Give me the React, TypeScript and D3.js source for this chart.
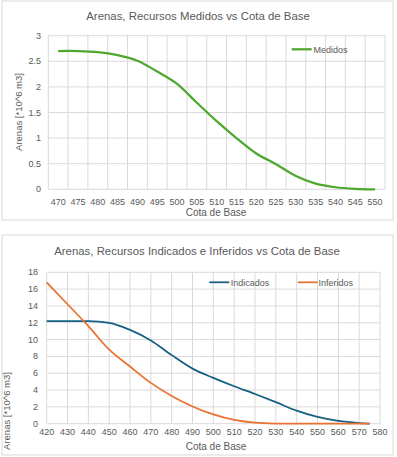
import React from 'react';
import * as d3 from 'd3';

// Chart 1: measured resources
const medCotas = [470, 475, 480, 485, 490, 495, 500, 505, 510, 515, 520, 525, 530, 535, 540, 545, 550];
const medidos = [2.70, 2.70, 2.68, 2.62, 2.51, 2.30, 2.06, 1.69, 1.33, 1.0, 0.70, 0.49, 0.26, 0.11, 0.04, 0.01, 0.0];
const medTicks = [0, 0.5, 1, 1.5, 2, 2.5, 3];

// Chart 2: indicated and inferred resources
const indCotas = [420, 430, 440, 450, 460, 470, 480, 490, 500, 510, 520, 530, 540, 550, 560, 570, 575];
const indicados = [12.2, 12.2, 12.2, 12.0, 11.15, 9.9, 8.15, 6.55, 5.45, 4.45, 3.53, 2.56, 1.55, 0.8, 0.33, 0.08, 0.0];
const inferidos = [16.8, 14.2, 11.6, 8.8, 6.8, 4.85, 3.3, 2.05, 1.1, 0.45, 0.12, 0.02, 0.0, 0.0, 0.0, 0.0, 0.0];
const ind2Ticks = [0, 2, 4, 6, 8, 10, 12, 14, 16, 18];
const xTicks2 = [420, 430, 440, 450, 460, 470, 480, 490, 500, 510, 520, 530, 540, 550, 560, 570, 580];

const font = '"Liberation Sans", Arial, sans-serif';
const textColor = '#595959';
const gridColor = '#d9d9d9';

const GREEN = '#4ea72e';
const BLUE = '#156082';
const ORANGE = '#e97132';

function MedidosChart() {
    const left = 48.3, right = 385, top = 35.7, bottom = 189.3;
    const x = d3.scalePoint<number>().domain(medCotas).range([left, right]).padding(0.5);
    const y = d3.scaleLinear().domain([0, 3]).range([bottom, top]);
    const step = x.step();
    const line = d3.line<number>()
        .x((_, i) => x(medCotas[i])!)
        .y(d => y(d))
        .curve(d3.curveCatmullRom.alpha(0.5));

    return (
        <g>
            <rect x={2} y={1} width={391} height={219} fill="#fff" stroke={gridColor} strokeWidth={1} />
            <text x={198} y={19.5} textAnchor="middle" fontSize={11.4} fill={textColor}>
                Arenas, Recursos Medidos vs Cota de Base
            </text>
            {medTicks.map(t => (
                <g key={t}>
                    <line x1={left} x2={right} y1={y(t)} y2={y(t)} stroke={gridColor} strokeWidth={1} />
                    <text x={41} y={y(t) + 3} textAnchor="end" fontSize={9} fill={textColor}>{t}</text>
                </g>
            ))}
            {d3.range(medCotas.length + 1).map(i => (
                <line key={i} x1={left + i * step} x2={left + i * step} y1={top} y2={bottom} stroke={gridColor} strokeWidth={1} />
            ))}
            {medCotas.map(c => (
                <text key={c} x={x(c)} y={204.5} textAnchor="middle" fontSize={9} fill={textColor}>{c}</text>
            ))}
            <path d={line(medidos)!} fill="none" stroke={GREEN} strokeWidth={2.25} />
            <line x1={291.7} x2={311.7} y1={49.3} y2={49.3} stroke={GREEN} strokeWidth={2.25} />
            <text x={313.5} y={52.5} fontSize={9} fill={textColor}>Medidos</text>
            <text x={216} y={216} textAnchor="middle" fontSize={10} fill={textColor}>Cota de Base</text>
            <text transform={`translate(21.5, 112) rotate(-90)`} textAnchor="middle" fontSize={9.5} fill={textColor}>
                Arenas [*10^6 m3]
            </text>
        </g>
    );
}

function IndInfChart() {
    const left = 46.7, right = 380, top = 272.3, bottom = 423.7;
    const x = d3.scaleLinear().domain([420, 580]).range([left, right]);
    const y = d3.scaleLinear().domain([0, 18]).range([bottom, top]);
    const line = d3.line<number>()
        .x((_, i) => x(indCotas[i]))
        .y(d => y(d))
        .curve(d3.curveMonotoneX);

    return (
        <g>
            <rect x={2} y={235} width={391} height={220} fill="#fff" stroke={gridColor} strokeWidth={1} />
            <text x={197} y={254.5} textAnchor="middle" fontSize={11.4} fill={textColor}>
                Arenas, Recursos Indicados e Inferidos vs Cota de Base
            </text>
            {ind2Ticks.map(t => (
                <g key={t}>
                    <line x1={left} x2={right} y1={y(t)} y2={y(t)} stroke={gridColor} strokeWidth={1} />
                    <text x={38} y={y(t) + 3} textAnchor="end" fontSize={9} fill={textColor}>{t}</text>
                </g>
            ))}
            {xTicks2.map(t => (
                <g key={t}>
                    <line x1={x(t)} x2={x(t)} y1={top} y2={bottom} stroke={gridColor} strokeWidth={1} />
                    <text x={x(t)} y={435} textAnchor="middle" fontSize={9} fill={textColor}>{t}</text>
                </g>
            ))}
            <path d={line(indicados)!} fill="none" stroke={BLUE} strokeWidth={1.75} />
            <path d={line(inferidos)!} fill="none" stroke={ORANGE} strokeWidth={1.75} />
            <line x1={209.3} x2={229.3} y1={282.3} y2={282.3} stroke={BLUE} strokeWidth={1.75} />
            <text x={230.7} y={285.5} fontSize={9} fill={textColor}>Indicados</text>
            <line x1={297.7} x2={317.7} y1={282.3} y2={282.3} stroke={ORANGE} strokeWidth={1.75} />
            <text x={318.5} y={285.5} fontSize={9} fill={textColor}>Inferidos</text>
            <text x={216} y={450} textAnchor="middle" fontSize={10} fill={textColor}>Cota de Base</text>
            <text transform={`translate(10, 411) rotate(-90)`} textAnchor="middle" fontSize={9.5} fill={textColor}>
                Arenas [*10^6 m3]
            </text>
        </g>
    );
}

export default function App() {
    return (
        <svg width={397} height={457} style={{ position: 'absolute', left: 0, top: 0, fontFamily: font }}>
            <rect width={397} height={457} fill="#fff" />
            <MedidosChart />
            <IndInfChart />
        </svg>
    );
}
